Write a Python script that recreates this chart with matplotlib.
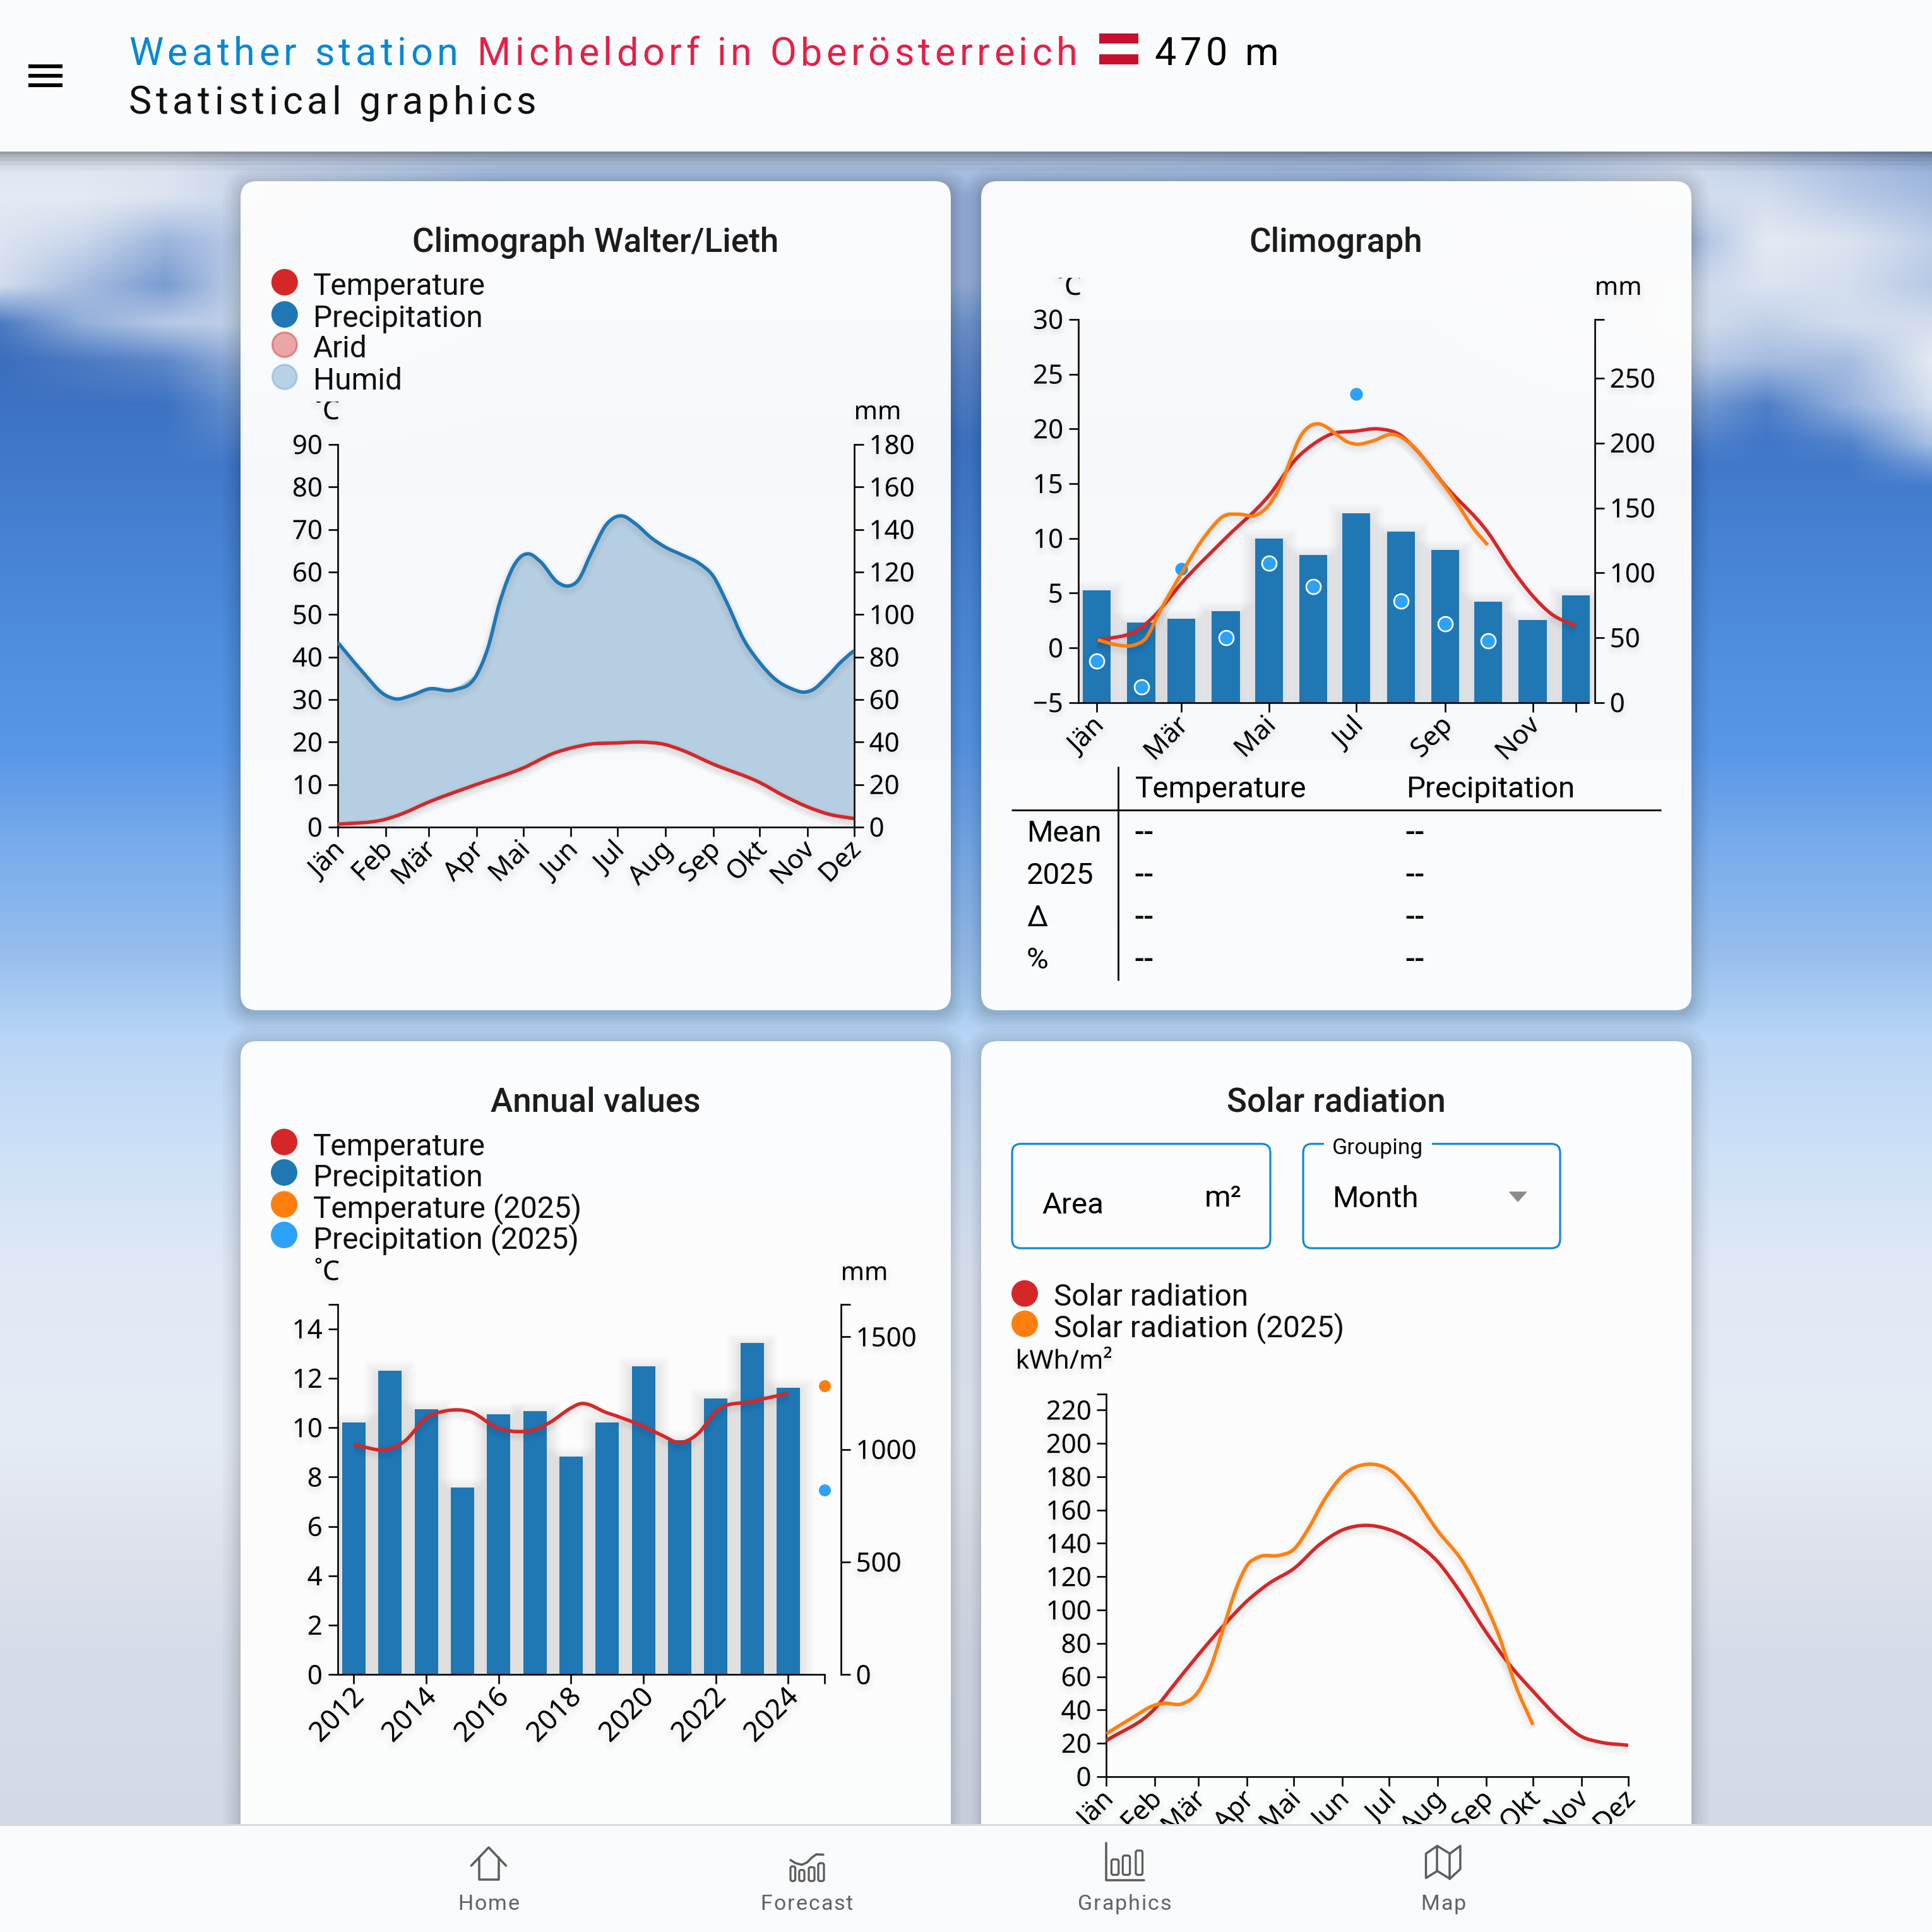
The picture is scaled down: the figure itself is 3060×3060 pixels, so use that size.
import numpy as np
import matplotlib
matplotlib.use("Agg")
import matplotlib.pyplot as plt
import matplotlib.text as mtext
import matplotlib.patheffects as pe
from matplotlib.patches import FancyBboxPatch, Circle, Rectangle, PathPatch, Polygon
from matplotlib.path import Path
from matplotlib.transforms import Bbox, IdentityTransform, ScaledTranslation

# ---------- data ----------
MONTHS = ["Jän", "Feb", "Mär", "Apr", "Mai", "Jun", "Jul", "Aug", "Sep", "Okt", "Nov", "Dez"]
MONTH_DAY = [0, 31, 59, 90, 120, 151, 181, 212, 243, 273, 304, 334]

# mean temperature curve (day of year, deg C)
temp_day = [0, 31, 40, 59, 90, 120, 140, 151, 163, 181, 196, 212, 222, 243, 273, 289, 304, 317, 334]
temp_val = [0.65, 1.85, 2.9, 5.9, 10.05, 13.9, 17.4, 18.6, 19.5, 19.8, 20.0, 19.4, 18.2, 14.8, 10.5, 7.3, 4.75, 3.1, 2.0]

# mean precipitation curve (day of year, mm)
prec_day = [0, 15, 31, 37.5, 48, 59, 75, 90, 97, 105, 114, 120, 124, 131, 142.6, 149, 155.5, 164, 174, 181, 184, 193,
            203, 212, 223, 234, 243, 251.5, 263, 273, 283, 293, 302, 307, 317, 326, 334]
prec_val = [87, 74, 62, 60.3, 62, 65, 64.5, 71.7, 83.8, 106, 123, 128, 128.5, 125, 115, 113.4, 116, 128.8, 142.5, 146.2,
            146.4, 142.5, 136, 131.7, 128, 124, 118, 106, 87.8, 77.4, 69.6, 65.3, 63.5, 64.5, 71, 78, 83]

# climograph
prec_bars = [86.5, 61.7, 64.5, 70.4, 126.6, 113.8, 145.8, 131.8, 117.6, 77.9, 63.6, 82.5]
prec_2025 = [32, 12, 103.3, 50, 107.3, 89.3, 237.6, 78.2, 60.8, 47.5]
t25_day = [0.6, 13, 26, 33.6, 44.6, 59, 76, 88.7, 99.7, 110.7, 120, 129.6, 136, 142, 148, 155, 161, 167, 175, 181, 192.5,
           206.6, 220.7, 236.5, 243, 252, 263, 272.6]
t25_val = [0.74, 0.3, 0.26, 0.8, 3.5, 6.8, 10.3, 12.06, 12.2, 12.1, 13.05, 15.3, 17.5, 19.3, 20.2, 20.45, 20.1, 19.5,
           18.8, 18.6, 18.9, 19.5, 18.4, 15.8, 14.7, 13.05, 10.85, 9.4]

# annual values
YEARS = list(range(2012, 2025))
annual_prec = [1121, 1350, 1180, 831, 1155, 1169, 969, 1121, 1368, 1040, 1226, 1473, 1275]
annual_temp_x = [2012, 2013, 2013.4, 2014, 2014.5, 2014.9, 2015.2, 2016, 2016.7, 2017, 2017.4, 2018, 2018.2, 2019, 2020,
                 2020.5, 2021, 2021.5, 2022, 2023, 2024]
annual_temp_y = [9.3, 9.15, 9.45, 10.4, 10.67, 10.72, 10.65, 9.97, 9.85, 9.92, 10.2, 10.8, 10.95, 10.6, 10.05, 9.7, 9.4,
                 9.75, 10.65, 11.06, 11.39]
year_2025 = 2025
temp_2025_mean = 11.7
prec_2025_total = 821

# solar radiation
solar_day = [0, 31, 43, 59, 75, 90, 104.6, 120, 136.7, 151, 166, 181, 198, 212, 225, 242.6, 258.7, 273, 289.5, 304, 316, 334]
solar_val = [21.6, 40.8, 54.8, 73.3, 90.7, 105.4, 116.3, 124.9, 139.5, 148, 150.8, 148.3, 140.2, 129, 112.8, 87.3, 66.4,
             51.3, 35, 24.1, 20.7, 18.8]
s25_day = [0, 16, 31, 37.5, 48, 59, 67, 75, 83, 90, 98, 110, 120, 130, 139.4, 151, 167.6, 182, 194, 212, 228, 242.6, 252,
           261.4, 273]
s25_val = [25.8, 35, 42.9, 44, 43.6, 51.3, 66.4, 89.6, 112.8, 126.7, 132, 132.7, 136.5, 150, 166, 180.5, 187.5, 183.6,
           172, 147.6, 129, 103.5, 82.6, 55.9, 31.1]

# background colours, one stop per y pixel
sky_y = [0, 570, 741, 997, 1184, 1337, 1508, 1644, 1848, 2019, 2274, 2444, 2615, 3060]
sky_r = [58, 58, 66, 78, 88, 120, 150, 185, 208, 225, 230, 222, 214, 208]
sky_g = [110, 110, 122, 140, 150, 172, 190, 214, 226, 233, 236, 226, 221, 216]
sky_b = [190, 190, 203, 222, 232, 235, 238, 245, 247, 246, 245, 236, 234, 231]
cloud_x = [0, 130, 260, 380, 800, 1530, 2250, 2680, 2800, 2930, 3060]
cloud_y = [240, 310, 380, 450, 510, 570, 640, 700, 735, 770]
cloud_a = [[.90, .90, .90, .80, .70, .70, .60, .80, .70, .60, .50],
           [.95, .95, .90, .80, .50, .50, .50, .85, .85, .70, .60],
           [.90, .80, .55, .70, .50, .50, .50, .60, .95, .90, .75],
           [.85, .60, .35, .75, .50, .50, .50, .80, .90, .85, .70],
           [.10, .50, .70, .75, .30, .30, .30, .85, .75, .85, .85],
           [.00, .10, .20, .50, .20, .20, .20, .70, .60, .60, .95],
           [.00, .00, .00, .25, .10, .10, .10, .35, .10, .50, .85],
           [.00, .00, .00, .10, .00, .00, .00, .10, .00, .10, .60],
           [.00, .00, .00, .00, .00, .00, .00, .00, .00, .00, .25],
           [.00, .00, .00, .00, .00, .00, .00, .00, .00, .00, .00]]

# ---------- helpers ----------
W = 3060
DPI = 200
PT = 72 / DPI          # points per pixel
plt.rcParams["font.family"] = ["Noto Sans", "DejaVu Sans"]
plt.rcParams["axes.unicode_minus"] = True

RED = "#d62728"
BLUE = "#1f77b4"
ORANGE = "#ff7f0e"
LIGHT = "#2ca2fb"
TICK_PX = 42

fig = plt.figure(figsize=(W / DPI, W / DPI), dpi=DPI)


def px_axes(x0, x1, yt, yb, zorder=2):
    ax = fig.add_axes([x0 / W, 1 - yb / W, (x1 - x0) / W, (yb - yt) / W], zorder=zorder)
    ax.patch.set_visible(False)
    return ax


def soft(k=1.0, alpha=0.02):
    out = []
    for w in (26, 18, 10):
        out.append(pe.Stroke(linewidth=(w * k) * PT, foreground="k", alpha=alpha, offset=(0, -5 * PT)))
    out.append(pe.Normal())
    return out


def soft_bar():
    out = [pe.Stroke(linewidth=w * PT, foreground="k", alpha=0.014, offset=(0, -7 * PT)) for w in (44, 36, 28, 21, 14, 8)]
    out.append(pe.Normal())
    return out


def soft_text():
    return [pe.Stroke(linewidth=w * PT, foreground="k", alpha=0.012, offset=(0, -5 * PT)) for w in (16, 9)] + [pe.Normal()]


class SpacedText(mtext.Text):
    """One text artist that draws its string with CSS-like letter spacing (pixels)."""

    def __init__(self, x, y, text, spacing=0.0, **kw):
        super().__init__(x, y, text, **kw)
        self.spacing = spacing

    def draw(self, renderer):
        s = self.get_text()
        x0, y0 = self.get_transform().transform(self.get_position())
        fp = self.get_fontproperties()
        bar = renderer.get_text_width_height_descent("|", fp, False)[0]
        for i, ch in enumerate(s):
            w = renderer.get_text_width_height_descent(s[:i] + "|", fp, False)[0] - bar
            t = mtext.Text(x0 + w + i * self.spacing, y0, ch, fontproperties=fp, color=self.get_color(),
                           transform=IdentityTransform(), ha="left", va="baseline")
            t.set_figure(self.get_figure())
            t.draw(renderer)

    def get_window_extent(self, renderer=None, dpi=None):
        bb = super().get_window_extent(renderer, dpi)
        return Bbox.from_extents(bb.x0, bb.y0, bb.x1 + self.spacing * (len(self.get_text()) - 1), bb.y1)


def T(ax, x, y, s, size=47.5, family="Roboto", color="k", ha="left", va="baseline", weight="normal", **kw):
    return ax.text(x, y, s, fontsize=size * PT, family=family, color=color, ha=ha, va=va, weight=weight, **kw)


def S(ax, x, y, s, size, color, spacing, weight="normal", family="Roboto"):
    t = SpacedText(x, y, s, spacing=spacing, fontsize=size * PT, family=family, color=color, weight=weight,
                   ha="left", va="baseline", transform=ax.transData)
    ax.add_artist(t)
    return t


def smooth_curve(ax, xs, ys, color, lw=5.5, effects=True, zorder=3):
    xs, ys = np.asarray(xs, float), np.asarray(ys, float)
    m = np.gradient(ys, xs)
    verts = [(xs[0], ys[0])]
    codes = [Path.MOVETO]
    for i in range(len(xs) - 1):
        h = xs[i + 1] - xs[i]
        verts += [(xs[i] + h / 3, ys[i] + m[i] * h / 3), (xs[i + 1] - h / 3, ys[i + 1] - m[i + 1] * h / 3),
                  (xs[i + 1], ys[i + 1])]
        codes += [Path.CURVE4] * 3
    patch = PathPatch(Path(verts, codes), fill=False, edgecolor=color, lw=lw * PT, capstyle="butt", joinstyle="round",
                      zorder=zorder)
    if effects:
        patch.set_path_effects(soft(0.8))
    ax.add_patch(patch)
    return patch


def style_axis(ax, side):
    for s in ax.spines.values():
        s.set_visible(False)
        s.set_linewidth(2.6 * PT)
    ax.spines[side].set_visible(True)
    ax.tick_params(axis="y", which="major", direction="out", length=15 * PT, width=2.6 * PT, pad=9 * PT,
                   labelsize=TICK_PX * PT, left=(side == "left"), right=(side == "right"),
                   labelleft=(side == "left"), labelright=(side == "right"))
    up = ScaledTranslation(0, 1 / DPI, fig.dpi_scale_trans)
    for lab in ax.get_yticklabels():
        lab.set_path_effects(soft_text())
        lab.set_transform(lab.get_transform() + up)


def set_yticks(ax, ticks, labels, side):
    ax.set_yticks(ticks)
    ax.set_yticklabels(labels)
    style_axis(ax, side)


def set_xticks(ax, ticks, labels, dx=5):
    ax.spines["bottom"].set_visible(True)
    ax.set_xticks(ticks)
    ax.set_xticklabels(labels, rotation=45, ha="right", va="center", rotation_mode="anchor")
    ax.tick_params(axis="x", direction="out", length=15 * PT, width=2.6 * PT, pad=15 * PT, labelsize=TICK_PX * PT)
    offset = ScaledTranslation(dx / DPI, 0, fig.dpi_scale_trans)
    for lab in ax.get_xticklabels():
        lab.set_transform(lab.get_transform() + offset)
        lab.set_path_effects(soft_text())


# ---------- background layer ----------
bg = fig.add_axes([0, 0, 1, 1], zorder=0)
bg.set_xlim(0, W)
bg.set_ylim(W, 0)
bg.axis("off")

grid = np.linspace(0, W, 766)
base = np.stack([np.interp(grid, sky_y, c) for c in (sky_r, sky_g, sky_b)], axis=-1)[:, None, :]
base = np.repeat(base, 766, axis=1)
ca = np.asarray(cloud_a)
along_x = np.stack([np.interp(grid, cloud_x, row) for row in ca], axis=0)
cloud = np.stack([np.interp(grid, cloud_y, along_x[:, j], left=along_x[0, j], right=0) for j in range(766)], axis=1)
cloud = cloud[..., None]
img = base * (1 - cloud) + np.array([238, 241, 247.0]) * cloud
bg.imshow(img.astype(np.uint8), extent=(0, W, W, 0), aspect="auto", interpolation="bilinear", zorder=0)
bg.set_xlim(0, W)
bg.set_ylim(W, 0)

CARDS = [(381, 287, 1506, 1600), (1554, 287, 2679, 1600), (381, 1649, 1506, 3000), (1554, 1649, 2679, 3000)]
for (x0, y0, x1, y1) in CARDS:
    for e in (28, 23, 18, 14, 10, 7, 4, 2):
        bg.add_patch(FancyBboxPatch((x0 - e, y0 - e + 5), x1 - x0 + 2 * e, y1 - y0 + 2 * e,
                                    boxstyle=f"round,pad=0,rounding_size={26 + e}", fc=(0, 0, 0, 0.02), ec="none",
                                    zorder=1))
    bg.add_patch(FancyBboxPatch((x0, y0), x1 - x0, y1 - y0, boxstyle="round,pad=0,rounding_size=26",
                                fc=(1, 1, 1, 0.965), ec="none", zorder=2))


def card_title(cx, y, s):
    T(bg, cx, y, s, size=53, ha="center", weight="medium", color="#1c1c1c", zorder=4)


def legend(items, x_c, x_t, ys_c, ys_t):
    for (lab, fc, ec), yc, yt in zip(items, ys_c, ys_t):
        bg.add_patch(Circle((x_c, yc), 19.5, fc=fc, ec=ec, lw=3 * PT, zorder=4))
        T(bg, x_t, yt, lab, size=47.7, color="#101010", zorder=4)


card_title(943, 398.5, "Climograph Walter/Lieth")
card_title(2116, 398.5, "Climograph")
card_title(943, 1760, "Annual values")
card_title(2116, 1760, "Solar radiation")

legend([("Temperature", RED, RED), ("Precipitation", BLUE, BLUE),
        ("Arid", (214 / 255, 39 / 255, 40 / 255, .4), (214 / 255, 39 / 255, 40 / 255, .45)),
        ("Humid", (31 / 255, 119 / 255, 180 / 255, .3), (31 / 255, 119 / 255, 180 / 255, .25))],
       450.8, 495.7, [447, 498, 546, 597], [467.3, 517.5, 565.5, 616.5])
legend([("Temperature", RED, RED), ("Precipitation", BLUE, BLUE),
        ("Temperature (2025)", ORANGE, ORANGE), ("Precipitation (2025)", LIGHT, LIGHT)],
       450, 496, [1808.7, 1857, 1907.5, 1956], [1829.5, 1878.5, 1928.5, 1977.5])
legend([("Solar radiation", RED, RED), ("Solar radiation (2025)", ORANGE, ORANGE)],
       1623, 1669.4, [2048.7, 2096.7], [2068.5, 2118])

# table
bg.plot([1771, 1771], [1214, 1552.7], color="k", lw=2.8 * PT, zorder=4, solid_capstyle="butt")
bg.plot([1602, 2631], [1282.7, 1282.7], color="k", lw=2.8 * PT, zorder=4, solid_capstyle="butt")
T(bg, 1797.5, 1263, "Temperature", zorder=4)
T(bg, 2226.8, 1263, "Precipitation", zorder=4)
for lab, yy in zip(["Mean", "2025", "Δ", "%"], [1333, 1400, 1466.7, 1534]):
    T(bg, 1626, yy, lab, zorder=4)
    T(bg, 1796.5, yy, "--", zorder=4, weight="medium")
    T(bg, 2225.8, yy, "--", zorder=4, weight="medium")

# input boxes
BORDER = "#1289d6"
for (x0, x1) in ((1603, 2012), (2064, 2471)):
    bg.add_patch(FancyBboxPatch((x0, 1811.7), x1 - x0, 165.3, boxstyle="round,pad=0,rounding_size=14", fc="none",
                                ec=BORDER, lw=3.2 * PT, zorder=4))
bg.add_patch(Rectangle((2097.5, 1803), 170.5, 18, fc=(0.99, 0.993, 0.998), ec="none", zorder=5))
T(bg, 1650, 1922, "Area", zorder=5)
T(bg, 1907.6, 1910.7, "m²", zorder=5)
T(bg, 2109.7, 1827.7, "Grouping", size=35.5, zorder=6, color="#101010")
T(bg, 2110.5, 1912, "Month", zorder=5)
bg.add_patch(Polygon([(2389.5, 1887.3), (2419, 1887.3), (2404, 1904)], fc="#8a8a8a", ec="none", zorder=5))

# ---------- Walter/Lieth ----------
ax = px_axes(534.7, 1352.6, 704, 1310)
ax2 = ax.twinx()
ax2.patch.set_visible(False)
ax.set_xlim(0, 334)
ax.set_ylim(0, 90)
ax2.set_ylim(0, 180)
fill_x = list(prec_day) + list(temp_day)[::-1]
fill_y = [v / 2 for v in prec_val] + list(temp_val)[::-1]
ax.fill(fill_x, fill_y, color="#b6cee2", lw=0, zorder=1, path_effects=soft(0.8, 0.012))
smooth_curve(ax2, prec_day, prec_val, BLUE)
smooth_curve(ax, temp_day, temp_val, RED)
ax.set_zorder(3)
ax2.set_zorder(4)
set_yticks(ax, list(range(0, 91, 10)), [str(v) for v in range(0, 91, 10)], "left")
set_yticks(ax2, list(range(0, 181, 20)), [str(v) for v in range(0, 181, 20)], "right")
set_xticks(ax, MONTH_DAY, MONTHS)
ax2.tick_params(axis="x", bottom=False, labelbottom=False)

# ---------- Climograph ----------
ax = px_axes(1707.9, 2525.7, 505.8, 1112.9)
ax2 = ax.twinx()
ax.set_xlim(-12.9, 347.2)
ax.set_ylim(-5, 30)
ax2.set_ylim(0, 295.3)
ax2.bar(MONTH_DAY, prec_bars, width=19.5, color=BLUE, zorder=2, path_effects=soft_bar())
ax2.plot(MONTH_DAY[:10], prec_2025, "o", ms=23 * PT, mfc=LIGHT, mec="white", mew=2.6 * PT, zorder=4)
ax2.patch.set_visible(False)
ax2.set_zorder(3)
ax.set_zorder(4)
smooth_curve(ax, temp_day, temp_val, RED)
smooth_curve(ax, t25_day, t25_val, ORANGE, zorder=4)
set_yticks(ax, list(range(-5, 31, 5)), ["\u2212" + "5"] + [str(v) for v in range(0, 31, 5)], "left")
set_yticks(ax2, list(range(0, 251, 50)) + [295.3], [str(v) for v in range(0, 251, 50)] + [""], "right")
sel = [0, 2, 4, 6, 8, 10, 11]
set_xticks(ax, [MONTH_DAY[i] for i in sel], ["Jän", "Mär", "Mai", "Jul", "Sep", "Nov", ""])
ax.spines["bottom"].set_bounds(-12.9, 343)
ax2.tick_params(axis="x", bottom=False, labelbottom=False)

# ---------- Annual values ----------
ax = px_axes(534.7, 1331.6, 2065.7, 2652.4)
ax2 = ax.twinx()
ax.set_xlim(2011.55, 2025.45)
ax.set_ylim(0, 15)
ax2.set_ylim(0, 1645)
ax2.bar(YEARS, annual_prec, width=0.65, color=BLUE, zorder=2, path_effects=soft_bar())
ax2.plot([year_2025], [prec_2025_total], "o", ms=19 * PT, mfc=LIGHT, mec="none", zorder=4)
ax2.patch.set_visible(False)
ax2.set_zorder(3)
ax.set_zorder(4)
smooth_curve(ax, annual_temp_x, annual_temp_y, RED)
ax.plot([year_2025], [temp_2025_mean], "o", ms=19 * PT, mfc=ORANGE, mec="none", zorder=4)
set_yticks(ax, list(range(0, 15, 2)) + [15], [str(v) for v in range(0, 15, 2)] + [""], "left")
set_yticks(ax2, [0, 500, 1000, 1500, 1645], ["0", "500", "1000", "1500", ""], "right")
set_xticks(ax, list(range(2012, 2025, 2)) + [2025], [str(v) for v in range(2012, 2025, 2)] + [""], dx=10)
ax.tick_params(axis="x", labelsize=44 * PT)
ax.spines["bottom"].set_bounds(2011.55, 2025)
ax2.tick_params(axis="x", bottom=False, labelbottom=False)

# ---------- Solar radiation ----------
ax = px_axes(1752.4, 2578.9, 2207.8, 2813.9)
ax.set_xlim(0, 334)
ax.set_ylim(0, 229.7)
smooth_curve(ax, solar_day, solar_val, RED)
smooth_curve(ax, s25_day, s25_val, ORANGE, zorder=4)
set_yticks(ax, list(range(0, 221, 20)) + [229.7], [str(v) for v in range(0, 221, 20)] + [""], "left")
set_xticks(ax, MONTH_DAY, MONTHS)

# units
units = fig.add_axes([0, 0, 1, 1], zorder=6)
units.set_xlim(0, W)
units.set_ylim(W, 0)
units.axis("off")
units.patch.set_visible(False)
t = T(units, 498, 664, "˚C", size=43, family="Noto Sans", path_effects=soft_text())
t.set_clip_box(Bbox([[0, 0], [W, W - 636]]))
t.set_clip_on(True)
T(units, 1352.6, 664, "mm", size=40, family="Noto Sans", path_effects=soft_text())
t = T(units, 1673, 467, "˚C", size=43, family="Noto Sans", path_effects=soft_text())
t.set_clip_box(Bbox([[0, 0], [W, W - 439.5]]))
t.set_clip_on(True)
T(units, 2525.7, 467, "mm", size=40, family="Noto Sans", path_effects=soft_text())
T(units, 498, 2027.4, "˚C", size=43, family="Noto Sans", path_effects=soft_text())
T(units, 1331.6, 2027.4, "mm", size=40, family="Noto Sans", path_effects=soft_text())
T(units, 1608.5, 2167.7, "kWh/m²", size=41, family="Noto Sans", path_effects=soft_text())

# ---------- header and navigation on top ----------
top = fig.add_axes([0, 0, 1, 1], zorder=10)
top.set_xlim(0, W)
top.set_ylim(W, 0)
top.axis("off")
top.patch.set_visible(False)

for h, a in zip((30, 22, 15, 9, 4), (0.04, 0.06, 0.07, 0.08, 0.1)):
    top.add_patch(Rectangle((0, 240), W, h, fc=(0, 0, 0, a), ec="none", zorder=1))
top.add_patch(Rectangle((0, 0), W, 240, fc="#fafbfd", ec="none", zorder=2))
for yy in (102, 116.5, 132):
    top.add_patch(Rectangle((45, yy), 54, 6.2, fc="k", ec="none", zorder=3))
HS, HW = 61, 6.6
S(top, 204, 103, "Weather station", HS, "#0288d6", HW).set_zorder(3)
S(top, 756, 103, "Micheldorf in Oberösterreich", HS, "#e91e46", HW).set_zorder(3)
S(top, 1828, 103, "470 m", HS, "k", HW).set_zorder(3)
S(top, 204, 180.5, "Statistical graphics", HS, "#111111", HW).set_zorder(3)
top.add_patch(Rectangle((1740.7, 53.3), 62.6, 48.4, fc="white", ec="none", zorder=3))
top.add_patch(Rectangle((1740.7, 53.3), 62.6, 16.1, fc="#c8102e", ec="none", zorder=3))
top.add_patch(Rectangle((1740.7, 85.6), 62.6, 16.1, fc="#c8102e", ec="none", zorder=3))

top.add_patch(Rectangle((0, 2890), W, 170, fc="#f9fafc", ec="none", zorder=2))
top.add_patch(Rectangle((0, 2888.5), W, 3.2, fc="#d8dade", ec="none", zorder=3))
GREY = "#5c5c5c"
nav_texts = []
for cx, lab in zip((774, 1278, 1781, 2285.7), ("Home", "Forecast", "Graphics", "Map")):
    t = S(top, cx, 3025, lab, 34, "#5f6266", 2.0)
    t.set_zorder(3)
    nav_texts.append((t, cx))

icon = dict(color=GREY, lw=3.5 * PT, zorder=3, solid_capstyle="round", solid_joinstyle="round")
top.plot([746.4, 774, 801.5], [2955, 2926, 2955], **icon)
top.plot([759, 759, 790, 790], [2941.7, 2976.7, 2976.7, 2941.7], **icon)
for x0, x1, yy in ((1252, 1259.6, 2956), (1265.8, 1274, 2961.7), (1281, 1290, 2957.3), (1296, 1305, 2951)):
    top.add_patch(FancyBboxPatch((x0, yy), x1 - x0, 2979.3 - yy, boxstyle="round,pad=0,rounding_size=3", fc="none",
                                 ec=GREY, lw=3.2 * PT, zorder=3))
top.plot([1252, 1260, 1270, 1278, 1286, 1293, 1304], [2946, 2951, 2953.5, 2950, 2942, 2937, 2937.5], **icon)
top.plot([1752.4, 1752.4, 1812], [2919.3, 2977.5, 2977.5], **icon)
for x0, x1, yy in ((1760.4, 1771.7, 2945), (1778.3, 1789.6, 2938.9), (1798.9, 1809.5, 2931)):
    top.add_patch(FancyBboxPatch((x0, yy), x1 - x0, 2969.5 - yy, boxstyle="round,pad=0,rounding_size=3", fc="none",
                                 ec=GREY, lw=3.2 * PT, zorder=3))
top.add_patch(Polygon([(2258.5, 2935.9), (2276.4, 2923.6), (2296.3, 2935.9), (2312.9, 2923.6), (2312.9, 2960.4),
                       (2296.3, 2975.7), (2276.4, 2963.4), (2258.5, 2974.5)], closed=True, fc="none", ec=GREY,
                      lw=3.5 * PT, joinstyle="round", zorder=3))
top.plot([2276.4, 2276.4], [2923.6, 2963.4], **icon)
top.plot([2296.3, 2296.3], [2935.9, 2975.7], **icon)

# centre the navigation labels now that text can be measured
renderer = fig.canvas.get_renderer()
for art, cx in nav_texts:
    art.set_x(cx - art.get_window_extent(renderer).width / 2)

fig.savefig("out.png", dpi=DPI)
